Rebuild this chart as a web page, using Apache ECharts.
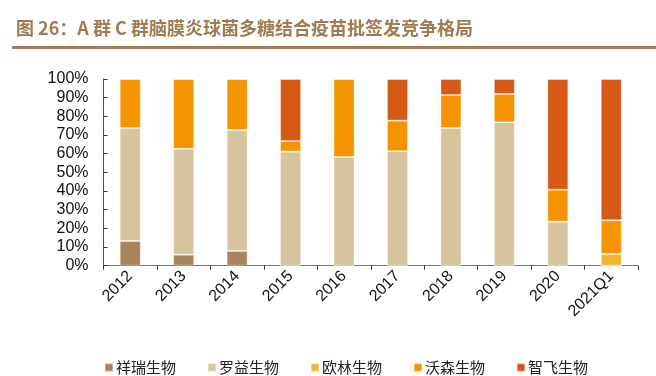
<!DOCTYPE html>
<html>
<head>
<meta charset="utf-8">
<script src="https://cdn.jsdelivr.net/npm/echarts@6/dist/echarts.min.js"></script>
<style>
html,body{margin:0;padding:0;background:#fff;}
#c{width:656px;height:376px;}
</style>
</head>
<body>
<div id="c"></div>
<script>
const categories = ['2012','2013','2014','2015','2016','2017','2018','2019','2020','2021Q1'];
const xiangrui = [13.2, 5.9, 7.9, 0, 0, 0, 0, 0, 0, 0];
const luoyi    = [60.6, 56.8, 64.8, 61.1, 58.2, 61.3, 73.8, 76.8, 23.6, 0];
const oulin    = [0, 0, 0, 0, 0, 0, 0, 0, 0, 6.3];
const wosen    = [26.2, 37.3, 27.3, 5.7, 41.8, 16.4, 17.6, 15.2, 17.1, 18.0];
const zhifei   = [0, 0, 0, 33.2, 0, 22.3, 8.6, 8.0, 59.3, 75.7];
const seriesNames = ['祥瑞生物','罗益生物','欧林生物','沃森生物','智飞生物'];
const colors = ['#A8845C','#D5C49D','#F2B531','#F59300','#D65A16'];
const yTicks = [0,10,20,30,40,50,60,70,80,90,100];

const chart = echarts.init(document.getElementById('c'));
const data = [xiangrui, luoyi, oulin, wosen, zhifei];
const series = seriesNames.map((n,i)=>({
  name:n, type:'bar', stack:'total', barWidth:21,
  data:data[i],
  itemStyle:{color:colors[i], borderColor:'rgba(255,255,255,0.35)', borderWidth:1},
  emphasis:{disabled:true}
}));
chart.setOption({
  animation:false,
  title:{
    text:'图 26：A 群 C 群脑膜炎球菌多糖结合疫苗批签发竞争格局',
    left:11, top:14,
    textStyle:{fontFamily:'"Noto Sans CJK SC", sans-serif', fontSize:18, fontWeight:'bold', color:'#A27A50'}
  },
  graphic:[{type:'rect', shape:{x:12,y:46,width:644,height:3}, style:{fill:'#A47D55'}}],
  grid:{left:103.5, right:18, top:79, bottom:110.3, containLabel:false},
  legend:{
    data:seriesNames, left:104, top:360, padding:0,
    itemWidth:8, itemHeight:8, itemGap:31,
    icon:'rect',
    textStyle:{fontFamily:'"Noto Sans CJK SC", sans-serif', fontSize:15, color:'#222', padding:[0,0,0,-2]}
  },
  xAxis:{
    type:'category', data:categories,
    axisLine:{lineStyle:{color:'#777', width:1}},
    axisTick:{show:true, length:4, lineStyle:{color:'#333'}, alignWithLabel:false},
    axisLabel:{rotate:45, fontFamily:'"Liberation Sans", Arial, sans-serif', fontSize:16, color:'#111', margin:8, interval:0}
  },
  yAxis:{
    type:'value', min:0, max:100, interval:10,
    axisLine:{show:true, lineStyle:{color:'#555'}},
    axisTick:{show:true, inside:true, length:4, lineStyle:{color:'#333'}},
    splitLine:{show:false},
    axisLabel:{formatter:v=>v+'%', fontFamily:'"Liberation Sans", Arial, sans-serif', fontSize:16, color:'#111', margin:15}
  },
  series:series
});
</script>
</body>
</html>
